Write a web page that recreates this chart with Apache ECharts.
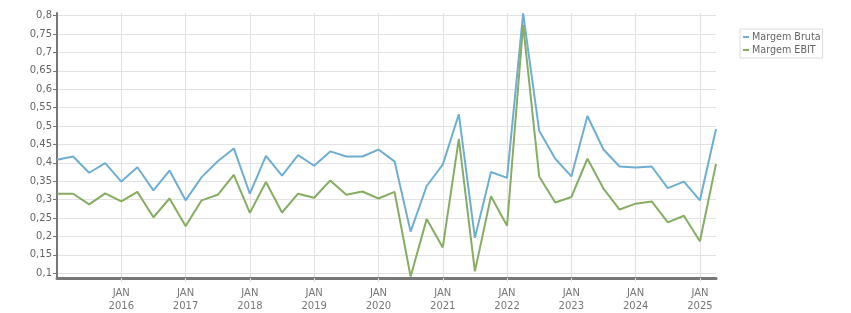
<!DOCTYPE html>
<html>
<head>
<meta charset="utf-8">
<script src="https://cdn.jsdelivr.net/npm/echarts@6/dist/echarts.min.js"></script>
<style>
html,body{margin:0;padding:0;background:#fff;}
#chart{width:851px;height:313px;}
</style>
</head>
<body>
<div id="chart"></div>
<script>
var quarters = [
  '2015-01','2015-04','2015-07','2015-10',
  '2016-01','2016-04','2016-07','2016-10',
  '2017-01','2017-04','2017-07','2017-10',
  '2018-01','2018-04','2018-07','2018-10',
  '2019-01','2019-04','2019-07','2019-10',
  '2020-01','2020-04','2020-07','2020-10',
  '2021-01','2021-04','2021-07','2021-10',
  '2022-01','2022-04','2022-07','2022-10',
  '2023-01','2023-04','2023-07','2023-10',
  '2024-01','2024-04','2024-07','2024-10',
  '2025-01','2025-04'
];
var margemBruta = [
  0.408,0.417,0.373,0.399,
  0.349,0.388,0.325,0.379,
  0.298,0.361,0.404,0.439,
  0.316,0.419,0.365,0.421,
  0.392,0.431,0.417,0.417,
  0.436,0.404,0.213,0.337,
  0.395,0.532,0.196,0.375,
  0.359,0.806,0.487,0.411,
  0.363,0.527,0.436,0.390,
  0.387,0.390,0.331,0.349,
  0.298,0.492
];
var margemEBIT = [
  0.316,0.316,0.287,0.317,
  0.295,0.321,0.252,0.303,
  0.228,0.298,0.313,0.367,
  0.264,0.348,0.265,0.316,
  0.305,0.352,0.313,0.322,
  0.303,0.321,0.091,0.247,
  0.170,0.465,0.105,0.309,
  0.229,0.775,0.363,0.292,
  0.307,0.411,0.330,0.273,
  0.289,0.295,0.238,0.256,
  0.187,0.397
];
var yTicks = [0.1,0.15,0.2,0.25,0.3,0.35,0.4,0.45,0.5,0.55,0.6,0.65,0.7,0.75,0.8];
var seriesNames = ['Margem Bruta','Margem EBIT'];

var FONT = 'DejaVu Sans';
function isJan(index, value) {
  return index > 0 && String(value).slice(5, 7) === '01';
}
var chart = echarts.init(document.getElementById('chart'), null, {renderer: 'canvas'});
chart.setOption({
  animation: false,
  color: ['#70aed1', '#86ad63'],
  textStyle: {fontFamily: FONT},
  grid: {left: 57, right: 135, top: 13, bottom: 33, containLabel: false},
  legend: {
    orient: 'vertical',
    left: 740,
    top: 29,
    data: seriesNames,
    icon: 'rect',
    itemWidth: 6,
    itemHeight: 2,
    itemGap: 3,
    padding: [3, 2, 3, 3],
    borderColor: '#dcdcdc',
    borderWidth: 1,
    textStyle: {fontFamily: FONT, fontSize: 9.6, color: '#666', padding: [0, 0, 0, -2]}
  },
  xAxis: {
    type: 'category',
    data: quarters,
    boundaryGap: false,
    axisLine: {show: true, lineStyle: {color: '#777', width: 3}},
    axisTick: {show: true, interval: isJan, length: 4, lineStyle: {color: '#ddd'}},
    axisLabel: {
      interval: isJan,
      margin: 9,
      fontFamily: FONT,
      fontSize: 10,
      color: '#777',
      lineHeight: 13,
      formatter: function (v) { return 'JAN\n' + String(v).slice(0, 4); }
    },
    splitLine: {show: true, interval: isJan, lineStyle: {color: '#e2e2e2', width: 1}}
  },
  yAxis: {
    type: 'value',
    min: 0.087,
    max: 0.807,
    axisLine: {show: true, lineStyle: {color: '#777', width: 2}},
    axisTick: {show: true, length: 4, customValues: yTicks, lineStyle: {color: '#777'}},
    axisLabel: {
      customValues: yTicks,
      margin: 5,
      fontFamily: FONT,
      fontSize: 10,
      color: '#666',
      formatter: function (v) { return String(+v.toFixed(2)).replace('.', ','); }
    },
    splitLine: {show: true, lineStyle: {color: '#e2e2e2', width: 1}}
  },
  series: [
    {name: seriesNames[0], type: 'line', data: margemBruta, symbol: 'none', lineStyle: {width: 2}},
    {name: seriesNames[1], type: 'line', data: margemEBIT, symbol: 'none', lineStyle: {width: 2}}
  ]
});
</script>
</body>
</html>
